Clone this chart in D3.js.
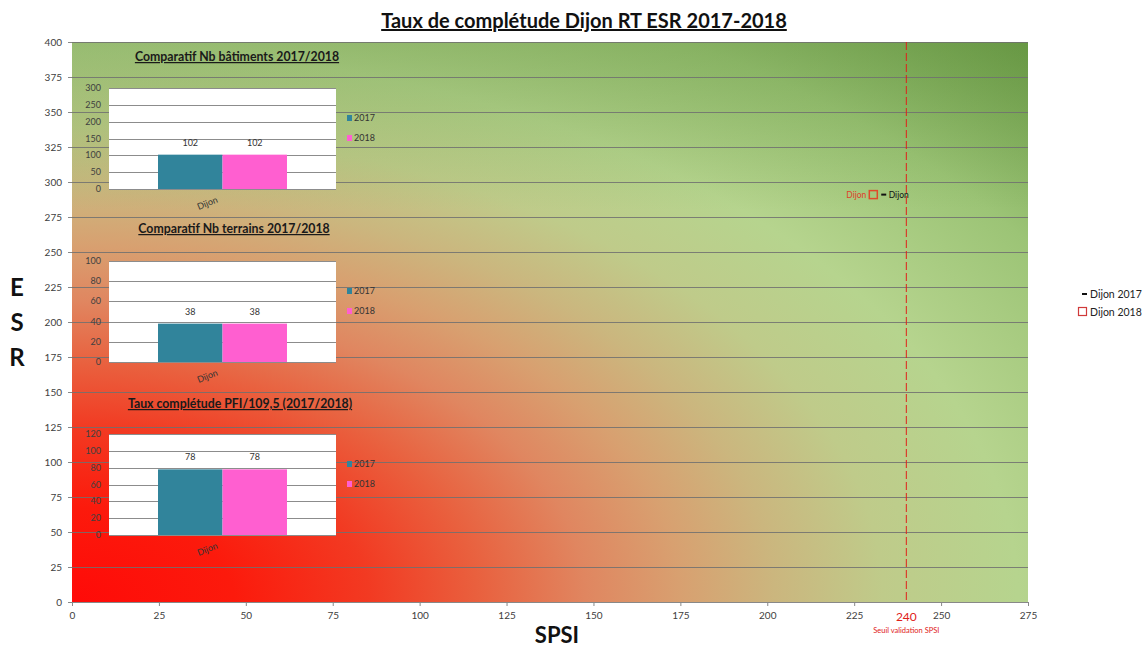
<!DOCTYPE html>
<html><head><meta charset="utf-8">
<script src="https://cdn.jsdelivr.net/npm/d3@7"></script>
<style>
html,body{margin:0;padding:0;background:#fff;}
svg{display:block;font-family:Lato,"Open Sans",sans-serif;}
</style></head>
<body><svg id="c" width="1145" height="648"></svg>
<script>
// ---------- data ----------
const chartTitle = "Taux de complétude Dijon RT ESR 2017-2018";
const xTicks = [0,25,50,75,100,125,150,175,200,225,250,275];
const yTicks = [0,25,50,75,100,125,150,175,200,225,250,275,300,325,350,375,400];
const seriesNames = ["Dijon 2017","Dijon 2018"];
const pointX = [233.5, 230.5];   // SPSI
const pointY = [291, 291];       // ESR
const seuilValue = 240;
const seuilLabel = "Seuil validation SPSI";
const insetTitles = ["Comparatif Nb bâtiments 2017/2018","Comparatif Nb terrains 2017/2018","Taux complétude PFI/109,5 (2017/2018)"];
const insetCategory = ["Dijon"];
const insetYears = ["2017","2018"];
const inset2017 = [102, 38, 78];
const inset2018 = [102, 38, 78];
const insetMax = [300, 100, 120];
const insetStep = [50, 20, 20];

// ---------- layout ----------
const svg = d3.select("#c");
const L = 72, R = 1028, T = 42, B = 602;
const x = d3.scaleLinear().domain([0,275]).range([L,R]);
const y = d3.scaleLinear().domain([0,400]).range([B,T]);
const defs = svg.append("defs");

const g = defs.append("radialGradient").attr("id","bg")
  .attr("gradientUnits","objectBoundingBox")
  .attr("cx",0).attr("cy",1).attr("fx",0).attr("fy",1).attr("r",1.414);
[[0,"#ff0a08"],[0.12,"#fc1a0c"],[0.22,"#f23a22"],[0.30,"#e9603e"],[0.38,"#e08660"],[0.45,"#d8a070"],[0.52,"#cbb67e"],[0.60,"#bfcb8a"],[0.70,"#b6d48e"],[0.84,"#9cc476"],[1,"#6c9c48"]]
  .forEach(s=>g.append("stop").attr("offset",s[0]).attr("stop-color",s[1]));

svg.append("rect").attr("x",L).attr("y",T).attr("width",R-L).attr("height",B-T).attr("fill","url(#bg)");
const g2 = defs.append("linearGradient").attr("id","topshade").attr("x1",0).attr("y1",0).attr("x2",0).attr("y2",1);
g2.append("stop").attr("offset",0).attr("stop-color","#5f8f3c").attr("stop-opacity",0.35);
g2.append("stop").attr("offset",0.3).attr("stop-color","#5f8f3c").attr("stop-opacity",0);
svg.append("rect").attr("x",L).attr("y",T).attr("width",R-L).attr("height",B-T).attr("fill","url(#topshade)");

// gridlines
svg.append("g").selectAll("line").data(yTicks.filter(d=>d>0)).join("line")
  .attr("x1",L).attr("x2",R).attr("y1",d=>Math.round(y(d))+0.5).attr("y2",d=>Math.round(y(d))+0.5)
  .attr("stroke","#707070").attr("stroke-opacity",0.85).attr("stroke-width",1);

// axes
const xAxis = svg.append("g").attr("transform",`translate(0,${B})`)
  .call(d3.axisBottom(x).tickValues(xTicks).tickSize(4).tickPadding(6));
const yAxis = svg.append("g").attr("transform",`translate(${L},0)`)
  .call(d3.axisLeft(y).tickValues(yTicks).tickSize(4).tickPadding(6));
[xAxis,yAxis].forEach(a=>{
  a.selectAll("path").attr("stroke","#888");
  a.selectAll("line").attr("stroke","#888");
  a.selectAll("text").attr("fill","#404040").style("font-size","10px").style("font-family","Lato,sans-serif");
});
yAxis.select(".domain").attr("stroke","none");

// threshold
svg.append("line").attr("x1",x(seuilValue)).attr("x2",x(seuilValue)).attr("y1",T).attr("y2",B)
  .attr("stroke","#e0201a").attr("stroke-width",1).attr("stroke-dasharray","8,3");
svg.append("text").attr("x",x(seuilValue)).attr("y",621).attr("text-anchor","middle")
  .attr("fill","#e0201a").style("font-size","12px").text(seuilValue);
svg.append("text").attr("x",x(seuilValue)).attr("y",633).attr("text-anchor","middle")
  .attr("fill","#e0201a").style("font-size","7.5px").text(seuilLabel);

// titles
svg.append("text").attr("x",584).attr("y",28).attr("text-anchor","middle")
  .style("font-size","20px").style("font-weight","bold").attr("text-decoration","underline")
  .attr("fill","#111").text(chartTitle);
svg.append("text").attr("x",557).attr("y",643).attr("text-anchor","middle")
  .style("font-size","22px").style("font-weight","bold").attr("fill","#111").text("SPSI");
["E","S","R"].forEach((c,i)=>{
  svg.append("text").attr("x",17).attr("y",y(225-25*i)+9).attr("text-anchor","middle")
    .style("font-size","24px").style("font-weight","bold").attr("fill","#111").text(c);
});

// points
const pts = svg.append("g");
pts.append("rect").attr("x",x(pointX[1])-4).attr("y",y(pointY[1])-4).attr("width",8).attr("height",8)
  .attr("fill","none").attr("stroke","#e04a2a").attr("stroke-width",1.5);
pts.append("text").attr("x",x(pointX[1])-7).attr("y",y(pointY[1])+3).attr("text-anchor","end")
  .attr("fill","#e0402a").style("font-size","8.5px").text("Dijon");
pts.append("line").attr("x1",x(pointX[0])-2.5).attr("x2",x(pointX[0])+2.5).attr("y1",y(pointY[0])).attr("y2",y(pointY[0]))
  .attr("stroke","#111").attr("stroke-width",2);
pts.append("text").attr("x",x(pointX[0])+5).attr("y",y(pointY[0])+3)
  .attr("fill","#111").style("font-size","8.5px").text("Dijon");

// main legend
const lg = svg.append("g");
lg.append("line").attr("x1",1082).attr("x2",1087).attr("y1",294).attr("y2",294).attr("stroke","#111").attr("stroke-width",2);
lg.append("text").attr("x",1090).attr("y",298).style("font-size","10.5px").attr("fill","#222").text(seriesNames[0]);
lg.append("rect").attr("x",1078.5).attr("y",307.5).attr("width",8).attr("height",8).attr("fill","none").attr("stroke","#d03a3a").attr("stroke-width",1.2);
lg.append("text").attr("x",1090).attr("y",316).style("font-size","10.5px").attr("fill","#222").text(seriesNames[1]);

// insets
const insetTop = [88, 261, 434];
const insetTitleY = [61, 233, 408];
const insetTitleX = [237, 234, 240];
const bx0 = 109, bx1 = 336, bh = 101;
insetTitles.forEach((t,i)=>{
  const top = insetTop[i];
  const ig = svg.append("g");
  ig.append("text").attr("x",insetTitleX[i]).attr("y",insetTitleY[i]).attr("text-anchor","middle")
    .style("font-size","12.3px").style("font-weight","bold").attr("text-decoration","underline")
    .attr("fill","#1a1a1a").text(t);
  ig.append("rect").attr("x",bx0).attr("y",top).attr("width",bx1-bx0).attr("height",bh).attr("fill","#fff");
  const iy = d3.scaleLinear().domain([0,insetMax[i]]).range([top+bh,top]);
  const ticks = d3.range(0,insetMax[i]+1,insetStep[i]);
  ig.append("g").selectAll("line").data(ticks).join("line")
    .attr("x1",bx0).attr("x2",bx1).attr("y1",d=>Math.round(iy(d))+0.5).attr("y2",d=>Math.round(iy(d))+0.5)
    .attr("stroke","#8c8c8c").attr("stroke-width",1);
  ig.append("g").selectAll("text").data(ticks).join("text")
    .attr("x",bx0-8).attr("y",d=>iy(d)+3).attr("text-anchor","end")
    .style("font-size","9px").attr("fill","#404040").text(d=>d);
  const cat = d3.scaleBand().domain(insetCategory).range([bx0,bx1]).paddingInner(0).paddingOuter(0.38);
  const ser = d3.scaleBand().domain(insetYears).range([0,cat.bandwidth()]);
  const vals = [inset2017[i], inset2018[i]];
  const cols = ["#31849b","#ff5fd0"];
  insetYears.forEach((yr,k)=>{
    const bxp = cat("Dijon")+ser(yr);
    ig.append("rect").attr("x",bxp).attr("y",iy(vals[k])).attr("width",ser.bandwidth()).attr("height",iy(0)-iy(vals[k]))
      .attr("fill",cols[k]);
    ig.append("text").attr("x",bxp+ser.bandwidth()/2).attr("y",iy(vals[k])-9).attr("text-anchor","middle")
      .style("font-size","9px").attr("fill","#333").text(vals[k]);
    ig.append("rect").attr("x",347).attr("y",top+27+k*20).attr("width",5).attr("height",6).attr("fill",cols[k]);
    ig.append("text").attr("x",354).attr("y",top+33+k*20).style("font-size","9px").attr("fill","#333").text(yr);
  });
  ig.append("text").attr("transform",`translate(${cat("Dijon")+cat.bandwidth()/2-14},${top+bh+17}) rotate(-22)`)
    .attr("text-anchor","middle").style("font-size","9px").attr("fill","#333").text(insetCategory[0]);
});
</script></body></html>
